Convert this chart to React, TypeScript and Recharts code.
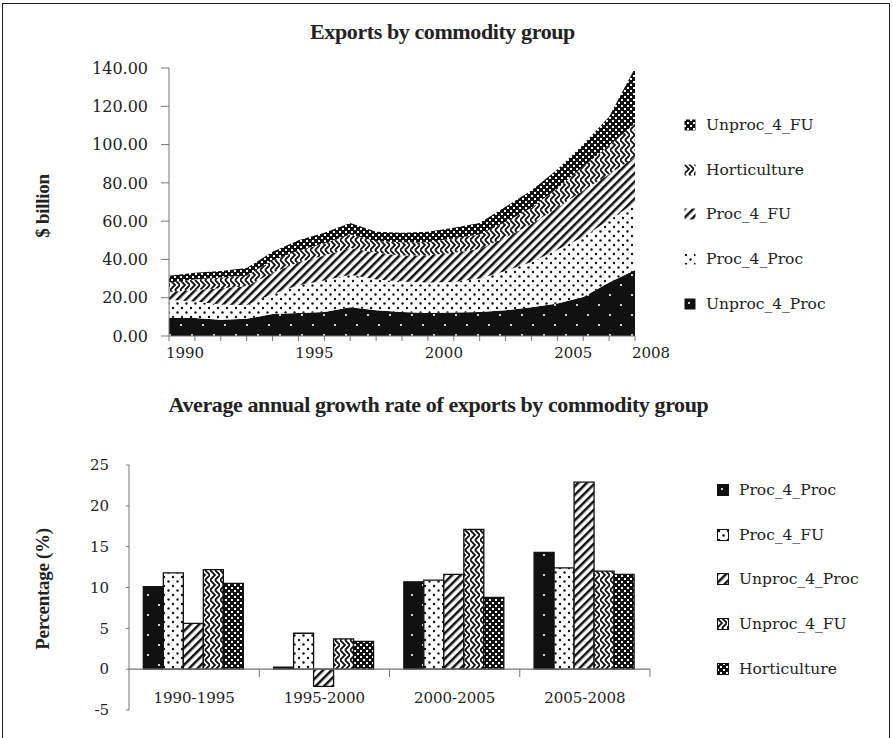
import React from 'react';
import { AreaChart, Area, BarChart, Bar, XAxis, YAxis, ReferenceLine } from 'recharts';

// top chart: exports by commodity group, $ billion (stack thicknesses)
const years = [1990, 1991, 1992, 1993, 1994, 1995, 1996, 1997, 1998, 1999, 2000, 2001, 2002, 2003, 2004, 2005, 2006, 2007, 2008];
const yearLabels = [1990, 1995, 2000, 2005, 2008];
const unproc4Proc = [9.5, 9.4, 8.5, 9, 11.5, 12, 12.5, 15, 13.5, 12.5, 12, 12.3, 12.6, 13.5, 15, 17, 20.4, 28, 34.5];
const proc4Proc = [9.5, 8.6, 8, 7, 10.5, 14.5, 16.5, 17, 16, 16, 16, 15.9, 17.4, 20.5, 23.7, 28, 31.3, 32.6, 35];
const proc4FU = [4, 6, 8.5, 10, 11, 12, 13, 14, 14, 13.5, 14, 15.3, 15.5, 17.5, 19.8, 22, 24.3, 23.9, 24];
const horticulture = [5, 5.5, 5.5, 5.5, 6.5, 6, 6.5, 7, 6, 7, 7, 7.5, 7.5, 8, 8.5, 10, 12.5, 15, 17.5];
const unproc4FU = [3.5, 3.5, 3.5, 4, 4.5, 5.5, 5.5, 6, 5, 5, 5.5, 5.5, 6, 8, 9, 10, 11.5, 15, 29];
const exportTicks = [0, 20, 40, 60, 80, 100, 120, 140];

// bottom chart: average annual growth rate, %
const periods = ['1990-1995', '1995-2000', '2000-2005', '2005-2008'];
const procProcGrowth = [10.1, 0.25, 10.7, 14.3];
const procFUGrowth = [11.8, 4.4, 10.9, 12.4];
const unprocProcGrowth = [5.6, -2.1, 11.6, 22.9];
const unprocFUGrowth = [12.2, 3.7, 17.1, 12.0];
const hortGrowth = [10.5, 3.4, 8.8, 11.6];
const growthTicks = [-5, 0, 5, 10, 15, 20, 25];

const topData = years.map((year, i) => ({
  year,
  Unproc_4_Proc: unproc4Proc[i],
  Proc_4_Proc: proc4Proc[i],
  Proc_4_FU: proc4FU[i],
  Horticulture: horticulture[i],
  Unproc_4_FU: unproc4FU[i],
}));

const growthData = periods.map((period, i) => ({
  period,
  Proc_4_Proc: procProcGrowth[i],
  Proc_4_FU: procFUGrowth[i],
  Unproc_4_Proc: unprocProcGrowth[i],
  Unproc_4_FU: unprocFUGrowth[i],
  Horticulture: hortGrowth[i],
}));

// stacking order bottom -> top
const areaSeries = [
  { key: 'Unproc_4_Proc', fill: 'url(#pBlackDots)' },
  { key: 'Proc_4_Proc', fill: 'url(#pWhiteDots)' },
  { key: 'Proc_4_FU', fill: 'url(#pDiag)' },
  { key: 'Horticulture', fill: 'url(#pChevron)' },
  { key: 'Unproc_4_FU', fill: 'url(#pChecker)' },
];

const barSeries = [
  { key: 'Proc_4_Proc', fill: 'url(#pBlackDots)' },
  { key: 'Proc_4_FU', fill: 'url(#pWhiteDots)' },
  { key: 'Unproc_4_Proc', fill: 'url(#pDiag)' },
  { key: 'Unproc_4_FU', fill: 'url(#pChevron)' },
  { key: 'Horticulture', fill: 'url(#pChecker)' },
];

const SERIF = '"DejaVu Serif", serif';
const TITLE = '"Liberation Serif", serif';
const INK = '#222';
const AXIS = '#777';

const Patterns = () => (
  <svg width={0} height={0} style={{ position: 'absolute' }}>
    <defs>
      <pattern id="pBlackDots" width={22} height={20} patternUnits="userSpaceOnUse">
        <rect width={22} height={20} fill="#111" />
        <circle cx={5} cy={5} r={1.1} fill="#fff" />
        <circle cx={16} cy={15} r={1.1} fill="#fff" />
      </pattern>
      <pattern id="pWhiteDots" width={9} height={9} patternUnits="userSpaceOnUse">
        <rect width={9} height={9} fill="#fff" />
        <circle cx={2} cy={2} r={1.2} fill="#111" />
        <circle cx={6.5} cy={6.5} r={1.2} fill="#111" />
      </pattern>
      <pattern id="pDiag" width={6} height={6} patternUnits="userSpaceOnUse" patternTransform="rotate(45)">
        <rect width={6} height={6} fill="#fff" />
        <rect width={2.5} height={6} fill="#111" />
      </pattern>
      <pattern id="pChevron" width={10} height={10} patternUnits="userSpaceOnUse">
        <rect width={10} height={10} fill="#fff" />
        <path d="M0,0 L5,5 L0,10 M5,0 L10,5 L5,10" stroke="#111" strokeWidth={1.8} fill="none" />
      </pattern>
      <pattern id="pChecker" width={6} height={6} patternUnits="userSpaceOnUse">
        <rect width={6} height={6} fill="#111" />
        <rect x={0} y={0} width={2} height={2} fill="#fff" />
        <rect x={3} y={3} width={2} height={2} fill="#fff" />
      </pattern>
    </defs>
  </svg>
);

const PatternLegend = ({ items, left, top, boxed }: { items: { key: string; fill: string }[]; left: number; top: number; boxed?: boolean }) => (
  <div style={{ position: 'absolute', left, top, fontFamily: SERIF, fontSize: 15.5, color: INK }}>
    {items.map((it) => (
      <div key={it.key} style={{ height: 44.6, display: 'flex', alignItems: 'center', whiteSpace: 'nowrap' }}>
        <svg width={12} height={12} style={{ marginRight: 10 }}>
          <rect x={0.5} y={0.5} width={11} height={11} fill={it.fill} stroke={boxed ? '#111' : 'none'} strokeWidth={1} />
        </svg>
        {it.key}
      </div>
    ))}
  </div>
);

const YearTick = (props: any) => {
  const { x, y, payload } = props;
  if (!yearLabels.includes(payload.value)) return null;
  return (
    <text x={x + 16} y={y} dy="0.71em" textAnchor="middle" fontFamily={SERIF} fontSize={15} fill={INK}>
      {payload.value}
    </text>
  );
};

const PeriodTick = (props: any) => {
  const { x, y, payload, index } = props;
  const half = 65.1;
  return (
    <g>
      {index > 0 && <line x1={x - half} x2={x - half} y1={y - 41} y2={y - 33} stroke={AXIS} />}
      {index === periods.length - 1 && <line x1={x + half} x2={x + half} y1={y - 41} y2={y - 33} stroke={AXIS} />}
      <text x={x} y={y - 12} textAnchor="middle" dominantBaseline="central" fontFamily={SERIF} fontSize={15} fill={INK}>
        {payload.value}
      </text>
    </g>
  );
};

const titleStyle: React.CSSProperties = {
  position: 'absolute',
  left: 0,
  fontFamily: TITLE,
  fontWeight: 'bold',
  fontSize: 22,
  letterSpacing: -0.4,
  lineHeight: '22px',
  textAlign: 'center',
  color: INK,
};

const axisTitle = (text: string, cx: number, cy: number) => (
  <div
    style={{
      position: 'absolute',
      left: cx,
      top: cy,
      transform: 'translate(-50%, -50%) rotate(-90deg)',
      fontFamily: TITLE,
      fontWeight: 'bold',
      fontSize: 19,
      letterSpacing: -0.3,
      whiteSpace: 'nowrap',
      color: INK,
    }}
  >
    {text}
  </div>
);

export default function App() {
  return (
    <div style={{ position: 'absolute', left: 0, top: 0, width: 893, height: 738, background: '#fff', overflow: 'hidden' }}>
      <Patterns />
      <div style={{ position: 'absolute', left: 2, top: 3, width: 886, height: 740, borderTop: '1.5px solid #222', borderLeft: '1.5px solid #222', borderRight: '1.5px solid #222' }} />

      <div style={{ ...titleStyle, top: 21, width: 885 }}>Exports by commodity group</div>
      {axisTitle('$ billion', 43, 206)}

      <div style={{ position: 'absolute', left: 0, top: 0 }}>
        <AreaChart width={893} height={366} data={topData} margin={{ top: 68, right: 258, left: 109, bottom: 0 }}>
          <XAxis
            dataKey="year"
            type="number"
            domain={[1990, 2008]}
            ticks={years}
            interval={0}
            height={30}
            tick={<YearTick />}
            tickSize={5}
            tickMargin={6}
            stroke={AXIS}
          />
          <YAxis
            domain={[0, 140]}
            ticks={exportTicks}
            width={60}
            tickFormatter={(v: number) => v.toFixed(2)}
            tickSize={8}
            tickMargin={13}
            stroke={AXIS}
            tick={{ fontFamily: SERIF, fontSize: 16, fill: INK }}
          />
          {areaSeries.map((s) => (
            <Area
              key={s.key}
              type="linear"
              dataKey={s.key}
              stackId="1"
              stroke="none"
              fill={s.fill}
              fillOpacity={1}
              dot={false}
              activeDot={false}
              isAnimationActive={false}
            />
          ))}
        </AreaChart>
      </div>
      <PatternLegend items={[...areaSeries].reverse()} left={684} top={103} />

      <div style={{ ...titleStyle, top: 394, width: 877 }}>Average annual growth rate of exports by commodity group</div>
      {axisTitle('Percentage (%)', 43, 589)}

      <div style={{ position: 'absolute', left: 0, top: 440 }}>
        <BarChart width={893} height={298} data={growthData} margin={{ top: 25, right: 243, left: 79, bottom: 0 }} barGap={0} barCategoryGap="11%">
          <XAxis
            dataKey="period"
            axisLine={false}
            tickLine={false}
            tickSize={0}
            tickMargin={0}
            height={28}
            interval={0}
            tick={<PeriodTick />}
          />
          <YAxis
            domain={[-5, 25]}
            ticks={growthTicks}
            width={50}
            tickSize={3}
            tickMargin={17}
            stroke={AXIS}
            tick={{ fontFamily: SERIF, fontSize: 15, fill: INK }}
          />
          <ReferenceLine y={0} stroke={AXIS} strokeWidth={1.2} />
          {barSeries.map((s) => (
            <Bar key={s.key} dataKey={s.key} fill={s.fill} stroke="#111" strokeWidth={1.3} isAnimationActive={false} />
          ))}
        </BarChart>
      </div>
      <PatternLegend items={barSeries} left={717} top={468} boxed />
    </div>
  );
}
